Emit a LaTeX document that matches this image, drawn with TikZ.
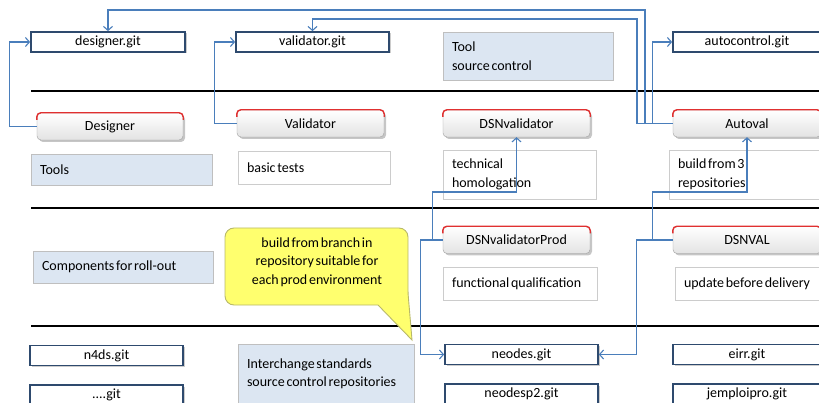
\documentclass[tikz,border=0pt]{standalone}
\usepackage{fontspec}
\setmainfont{Carlito}[WordSpace={0.55,0.3,0.3}]
\usetikzlibrary{arrows.meta,shadows}
\definecolor{connc}{HTML}{4A7EBB}
\definecolor{gitborder}{HTML}{2E4A6E}
\definecolor{lightblue}{HTML}{DCE6F2}
\definecolor{redtop}{HTML}{E03030}
\definecolor{calloutfill}{HTML}{FFFF6E}
\definecolor{calloutdraw}{HTML}{B8B86A}
\begin{document}
\begin{tikzpicture}[x=1pt,y=-1pt,font=\fontsize{14}{18.5}\selectfont,
  gitbox/.style={draw=gitborder,line width=1.7pt,fill=white,minimum width=#1,minimum height=20pt,inner sep=0pt,
    drop shadow={shadow xshift=1.5pt,shadow yshift=-1.5pt,opacity=.4}},
  gitbox/.default=153pt,
  toolbox/.style={draw=gray!75,rounded corners=4pt,minimum width=#1,minimum height=27pt,inner sep=0pt,
    top color=white,bottom color=gray!22,drop shadow={shadow xshift=2pt,shadow yshift=-2pt,opacity=.45}},
  toolbox/.default=147pt,
  descbox/.style 2 args={draw=gray!40,fill=white,align=flush left,inner xsep=9pt,inner ysep=0pt,text width=#1-18pt,minimum height=#2},
  bluebox/.style 2 args={descbox={#1}{#2},fill=lightblue,draw=gray!50},
  sep/.style={line width=1.3pt,black},
  conn/.style={draw=connc,line width=1.1pt,-{Straight Barb[length=4pt,width=9pt]}},
  redline/.style={draw=redtop,line width=1.4pt,rounded corners=4pt}]
\useasboundingbox (0,0) rectangle (819,403);
\clip (0,0) rectangle (819,403);

% separators
\draw[sep] (31,91) -- (819,91);
\draw[sep] (31,208) -- (819,208);
\draw[sep] (31,326) -- (819,326);

% git repositories (tool source control)
\node[gitbox=154pt] (dg) at (108,42) {designer.git};
\node[gitbox] (vg) at (312.5,42) {validator.git};
\node[gitbox=148pt] (ag) at (747,42) {autocontrol.git};
\node[bluebox={170pt}{48pt}] (tsc) at (528,56) {Tool\\source control};

% tools
\node[toolbox=146pt] (des) at (110,126.5) {Designer};
\node[toolbox] (val) at (310.5,123.5) {Validator};
\node[toolbox] (dv) at (516.5,123.5) {DSNvalidator};
\node[toolbox=148pt] (av) at (747,123.5) {Autoval};
\foreach \n in {des,val,dv,av}
  \draw[redline] ([yshift=-7pt]\n.north west) -- (\n.north west) -- (\n.north east) -- ([yshift=-7pt]\n.north east);

\node[bluebox={181pt}{31pt}] (tools) at (121.5,169.5) {Tools};
\node[descbox={152pt}{33pt}] (bt) at (314,167.5) {basic tests};
\node[descbox={153pt}{49pt}] (th) at (519.5,174.5) {technical\\homologation};
\node[descbox={154pt}{49pt}] (bf) at (746,174.5) {build from 3\\repositories};

% components for roll-out
\node[bluebox={180pt}{32pt}] (comp) at (123,267) {Components for roll-out};
\node[toolbox] (dvp) at (516.5,240) {DSNvalidatorProd};
\node[toolbox=148pt] (dval) at (747,240) {DSNVAL};
\foreach \n in {dvp,dval}
  \draw[redline] ([yshift=-7pt]\n.north west) -- (\n.north west) -- (\n.north east) -- ([yshift=-7pt]\n.north east);
\node[descbox={154pt}{33pt}] (fq) at (520,283.5) {functional qualification};
\node[descbox={154pt}{33pt}] (ubd) at (752,283.5) {update before delivery};

% interchange standards
\node[gitbox] (n4) at (106.5,355.5) {n4ds.git};
\node[gitbox] (dg2) at (106.5,395) {....git};
\node[bluebox={176pt}{60pt}] (ics) at (326,374) {Interchange standards\\source control repositories};
\node[gitbox] (ng) at (521.5,354.5) {neodes.git};
\node[gitbox] (np) at (521.5,394) {neodesp2.git};
\node[gitbox=148pt] (eg) at (747,354.5) {eirr.git};
\node[gitbox=148pt] (jg) at (747,394) {jemploipro.git};

% callout
\draw[fill=calloutfill,draw=calloutdraw,line width=0.9pt,rounded corners=9pt]
  (317,228) -- (408,228) [rounded corners=3pt] -- (408,293) [sharp corners] -- (412,340) -- (378,305) [rounded corners=9pt] -- (225,305) -- (225,228) -- cycle;
\node[align=center,inner sep=0pt] (note) at (317,262) {build from branch in\\repository suitable for\\each prod environment};

% connectors
\draw[conn] (des.west) -- ++(-27,0) |- (dg.west);
\draw[conn] (val.west) -- ++(-22,0) |- (vg.west);
\draw[conn] (av.west) -- (645,123.5) -- (645,10) -| (dg.north);
\draw[conn] (av.west) -- (637,123.5) -- (637,19) -| (vg.north);
\draw[conn] (av.west) -- ++(-20,0) |- (ag.west);
\draw[conn] (dvp.west) -- ++(-22,0) |- (ng.west);
\draw[conn] ([xshift=-10pt]dvp.west) -- ++(0,-48) -| (dv.south);
\draw[conn] (dval.west) -- ++(-36,0) |- (ng.east);
\draw[conn] ([xshift=-20pt]dval.west) -- ++(0,-48) -| (av.south);
\end{tikzpicture}
\end{document}
